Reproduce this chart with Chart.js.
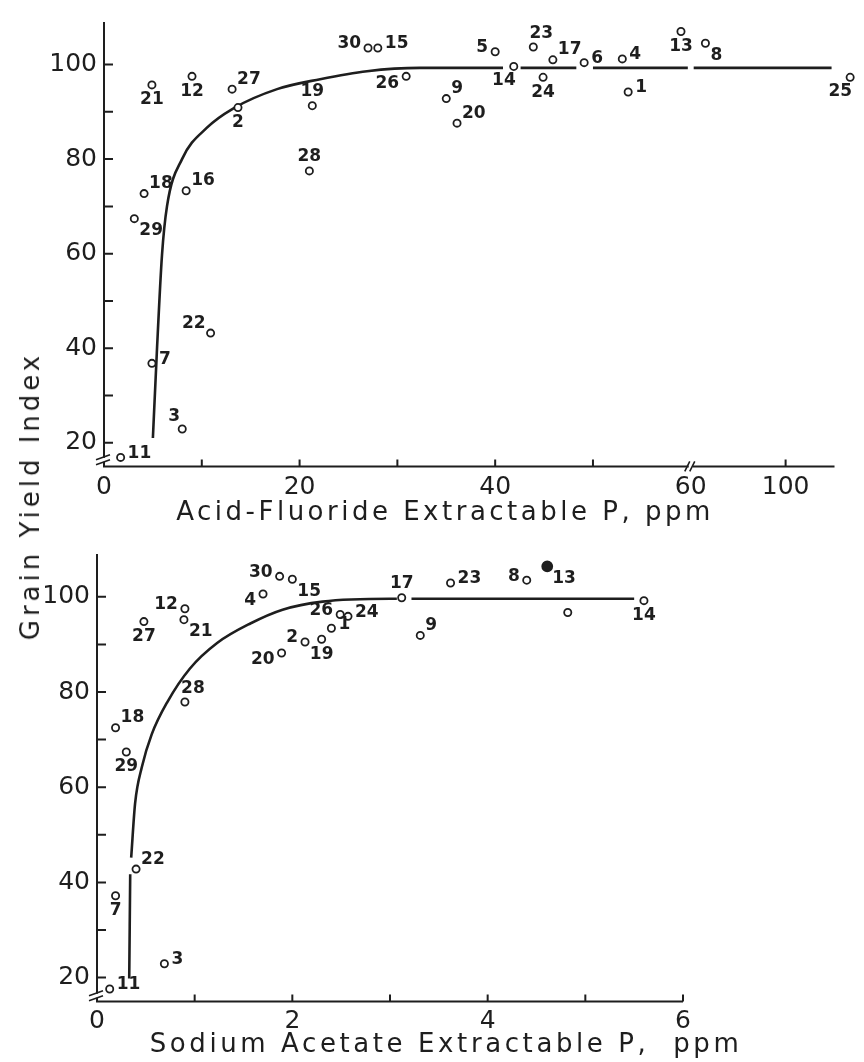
<!DOCTYPE html>
<html>
<head>
<meta charset="utf-8">
<script src="https://cdn.jsdelivr.net/npm/chart.js@4.4.1/dist/chart.umd.min.js"></script>
<style>
    html, body { margin: 0; padding: 0; background: #fff; }
    #wrap { position: relative; width: 864px; height: 1062px; overflow: hidden; }
    #topBox { position: absolute; left: 0; top: 0; }
    #botBox { position: absolute; left: 0; top: 532px; }
    #yTitle {
        position: absolute; left: 30px; top: 496px;
        transform: translate(-50%, -50%) rotate(-90deg);
        font: 26px "DejaVu Sans"; letter-spacing: 4px; color: #1e1e1e; white-space: nowrap;
    }
</style>
</head>
<body>
<div id="wrap">
    <div id="topBox"><canvas id="afChart" width="864" height="532"></canvas></div>
    <div id="botBox"><canvas id="saChart" width="864" height="530"></canvas></div>
    <div id="yTitle">Grain Yield Index</div>
</div>
<script>
// ---- top panel: acid-fluoride extractable P ----
const afIds   = ['21', '12', '27', '2', '19', '28', '18', '16', '29', '26', '30', '15', '5', '14', '9',
                 '20', '23', '24', '17', '6', '4', '1', '13', '8', '25', '22', '7', '3', '11'];
const afPpm   = [4.9, 9.0, 13.1, 13.7, 21.3, 21.0, 4.1, 8.4, 3.1, 30.9, 27.0, 28.0, 40.0, 41.9, 35.0,
                 36.1, 43.9, 44.9, 45.9, 49.1, 53.0, 53.6, 59.0, 91.8, 106.6, 10.9, 4.9, 8.0, 1.7];
const afYield = [95.7, 97.5, 94.8, 90.9, 91.3, 77.5, 72.7, 73.3, 67.4, 97.5, 103.5, 103.5, 102.7, 99.6, 92.8,
                 87.6, 103.7, 97.3, 101.0, 100.4, 101.2, 94.2, 107.0, 104.5, 97.3, 43.2, 36.8, 22.9, 16.9];
const afCurveX = [5.0, 5.4, 5.93, 6.44, 7.98, 10.5, 13.2, 17.7, 22.1, 26.9, 32.3, 40.8, 41.7,
                  42.6, 48.3, 49.1, 50.0, 59.7, 60.0, 90.6, 104.7];
const afCurveY = [21.0, 39.0, 59.7, 70.0, 80.0, 86.6, 90.7, 94.8, 96.9, 98.6, 99.3, 99.3, null,
                  99.3, 99.3, null, 99.3, 99.3, null, 99.3, 99.3];
const afXTicks  = [0, 10, 20, 30, 40, 50, 60, 100];
const afXLabels = ['0', '', '20', '', '40', '', '60', '100'];

// ---- bottom panel: sodium acetate extractable P ----
const saIds   = ['27', '12', '21', '28', '18', '29', '4', '30', '15', '26', '24', '2', '1', '19', '20',
                 '17', '9', '23', '8', '13', '', '14', '22', '7', '3', '11'];
const saPpm   = [0.48, 0.90, 0.89, 0.90, 0.19, 0.30, 1.70, 1.87, 2.00, 2.49, 2.57, 2.13, 2.40, 2.30, 1.89,
                 3.12, 3.31, 3.62, 4.40, 4.61, 4.82, 5.60, 0.40, 0.19, 0.69, 0.13];
const saYield = [94.8, 97.5, 95.2, 77.9, 72.5, 67.4, 100.6, 104.3, 103.7, 96.3, 95.9, 90.5, 93.4, 91.1, 88.2,
                 99.8, 91.9, 102.9, 103.5, 106.4, 96.7, 99.2, 42.8, 37.2, 22.9, 17.6];
const saCurveX = [0.33, 0.34, 0.345, 0.35, 0.39, 0.46, 0.56, 0.72, 0.95, 1.23, 1.57, 1.90, 2.31, 3.00, 3.07,
                  3.15, 3.22, 5.50];
const saCurveY = [19.8, 41.7, null, 45.2, 56.6, 64.3, 71.1, 77.9, 84.9, 90.3, 94.4, 97.3, 99.0, 99.6, 99.6,
                  null, 99.6, 99.6];
const saXTicks  = [0, 1, 2, 3, 4, 5, 6];
const saXLabels = ['0', '', '2', '', '4', '', '6'];

// shared y axis
const yTicks  = [20, 30, 40, 50, 60, 70, 80, 90, 100];
const yLabels = ['20', '', '40', '', '60', '', '80', '', '100'];

// where each number sits next to its circle
const afSides = ['b', 'b', 'ur', 'b', 'a', 'a', 'ur', 'ur', 'br', 'ld', 'l', 'r', 'l', 'bl', 'ur',
                 'ur', 'ar', 'b', 'ur', 'r', 'r', 'r', 'b', 'br', 'bl', 'ul', 'r', 'al', 'r'];
const saSides = ['b', 'l', 'br', 'ar', 'ur', 'b', 'ld', 'l', 'br', 'l', 'r', 'l', 'r', 'b', 'ld',
                 'a', 'ur', 'r', 'l', 'br', 'r', 'b', 'ur', 'b', 'r', 'r'];

const INK = '#1e1e1e';
const FONT = '"DejaVu Sans", sans-serif';
const SIDE = {
    r:  [7, -4, 'left'],   l:  [-7, -4, 'right'],
    a:  [0, -14, 'center'], b: [0, 15, 'center'],
    ur: [5, -10, 'left'],  ul: [-5, -10, 'right'],
    br: [5, 12, 'left'],   bl: [2, 14, 'right'],
    ld: [-7, 7, 'right'],  ar: [8, -13, 'center'], al: [-8, -12, 'center']
};

// the top x axis skips from 60 to about 90
function afAxis(v) { return v > 60 ? v - 30.3 : v; }

const paperAxes = {
    id: 'paperAxes',
    afterDraw(chart, args, o) {
        const { ctx, chartArea: a, scales: { x, y } } = chart;
        const L = a.left, B = a.bottom;
        ctx.save();
        ctx.strokeStyle = INK;
        ctx.lineWidth = 2;
        ctx.beginPath();
        ctx.moveTo(L, a.top); ctx.lineTo(L, B);
        ctx.moveTo(L - 1, B); ctx.lineTo(x.getPixelForValue(o.xEnd), B);
        y.ticks.forEach(function (t) {
            const py = y.getPixelForValue(t.value);
            ctx.moveTo(L, py); ctx.lineTo(L + 9, py);
        });
        x.ticks.forEach(function (t) {
            if (t.value <= x.min || t.value === o.xBreak) return;
            const px = x.getPixelForValue(t.value);
            ctx.moveTo(px, B); ctx.lineTo(px, B - 7);
        });
        ctx.stroke();

        // axis breaks
        ctx.fillStyle = '#fff';
        ctx.lineWidth = 1.6;
        const yb = y.getPixelForValue(o.yBreak);
        ctx.fillRect(L - 3, yb - 1, 6, 4);
        ctx.beginPath();
        ctx.moveTo(L - 8, yb + 1); ctx.lineTo(L + 6, yb - 4);
        ctx.moveTo(L - 8, yb + 6); ctx.lineTo(L + 6, yb + 1);
        if (o.xBreak != null) {
            const xb = x.getPixelForValue(o.xBreak);
            ctx.fillRect(xb - 2, B - 3, 4, 6);
            ctx.moveTo(xb - 6, B + 5); ctx.lineTo(xb - 1, B - 5);
            ctx.moveTo(xb - 1, B + 5); ctx.lineTo(xb + 4, B - 5);
        }
        ctx.stroke();

        ctx.fillStyle = INK;
        ctx.font = '26px ' + FONT;
        ctx.letterSpacing = o.titleSpacing;
        ctx.textAlign = 'center';
        ctx.textBaseline = 'alphabetic';
        ctx.fillText(o.title, o.titleX, o.titleY);
        ctx.restore();
    }
};

const pointTags = {
    id: 'pointTags',
    afterDatasetsDraw(chart, args, o) {
        const ctx = chart.ctx;
        const meta = chart.getDatasetMeta(0);
        ctx.save();
        ctx.font = 'bold 17px ' + FONT;
        ctx.fillStyle = INK;
        ctx.textBaseline = 'middle';
        meta.data.forEach(function (pt, i) {
            const tag = o.ids[i];
            if (!tag) return;
            const s = SIDE[o.sides[i]];
            ctx.textAlign = s[2];
            ctx.fillText(tag, pt.x + s[0], pt.y + s[1]);
        });
        ctx.restore();
    }
};

function tickFont() { return { family: FONT, size: 25 }; }

function makePanel(canvas, p) {
    return new Chart(canvas, {
        type: 'scatter',
        data: {
            datasets: [
                {
                    data: p.px.map(function (v, i) { return { x: p.mapX(v), y: p.py[i] }; }),
                    pointRadius: p.ids.map(function (id) { return p.filled === id ? 5 : 3.6; }),
                    pointBorderWidth: 1.8,
                    pointBorderColor: INK,
                    pointBackgroundColor: p.ids.map(function (id) { return p.filled === id ? INK : '#fff'; }),
                    clip: false
                },
                {
                    data: p.cx.map(function (v, i) { return { x: p.mapX(v), y: p.cy[i] }; }),
                    showLine: true,
                    spanGaps: false,
                    cubicInterpolationMode: 'monotone',
                    borderColor: INK,
                    borderWidth: 2.6,
                    pointRadius: 0,
                    clip: false
                }
            ]
        },
        options: {
            responsive: false,
            animation: false,
            events: [],
            layout: { padding: p.pad },
            plugins: {
                legend: { display: false },
                tooltip: { enabled: false },
                paperAxes: p.axes,
                pointTags: { ids: p.ids, sides: p.sides }
            },
            scales: {
                x: {
                    type: 'linear', min: 0, max: p.xMax,
                    grid: { display: false, drawTicks: false },
                    border: { display: false },
                    afterFit: function (s) { s.height = p.xHeight; },
                    afterBuildTicks: function (s) {
                        s.ticks = p.xTicks.map(function (v) { return { value: p.mapX(v) }; });
                    },
                    ticks: {
                        autoSkip: false, maxRotation: 0, padding: p.xPad,
                        color: INK, font: tickFont(),
                        callback: function (v, i) { return p.xLabels[i]; }
                    }
                },
                y: {
                    type: 'linear', min: 15, max: 109,
                    grid: { display: false, drawTicks: false },
                    border: { display: false },
                    afterFit: function (s) { s.width = p.yWidth; },
                    afterBuildTicks: function (s) {
                        s.ticks = yTicks.map(function (v) { return { value: v }; });
                    },
                    ticks: {
                        autoSkip: false, padding: 7,
                        color: INK, font: tickFont(),
                        callback: function (v, i) { return yLabels[i]; }
                    }
                }
            }
        },
        plugins: [paperAxes, pointTags]
    });
}

makePanel(document.getElementById('afChart'), {
    ids: afIds, px: afPpm, py: afYield, cx: afCurveX, cy: afCurveY, sides: afSides,
    mapX: afAxis, xMax: 77, xTicks: afXTicks, xLabels: afXLabels,
    pad: { left: 0, top: 11.4, right: 7, bottom: 0 },
    yWidth: 104, xHeight: 65.6, xPad: 6,
    axes: { xEnd: 74.7, xBreak: 60, yBreak: 16.6,
            title: 'Acid-Fluoride Extractable P, ppm', titleX: 445, titleY: 520, titleSpacing: '3.5px' }
});

makePanel(document.getElementById('saChart'), {
    ids: saIds, px: saPpm, py: saYield, cx: saCurveX, cy: saCurveY, sides: saSides, filled: '13',
    mapX: function (v) { return v; }, xMax: 6, xTicks: saXTicks, xLabels: saXLabels,
    pad: { left: 0, top: 14.4, right: 181, bottom: 0 },
    yWidth: 97, xHeight: 60.6, xPad: 5,
    axes: { xEnd: 6, xBreak: null, yBreak: 16.4,
            title: 'Sodium Acetate Extractable P,  ppm', titleX: 446, titleY: 520, titleSpacing: '3.6px' }
});
</script>
</body>
</html>
